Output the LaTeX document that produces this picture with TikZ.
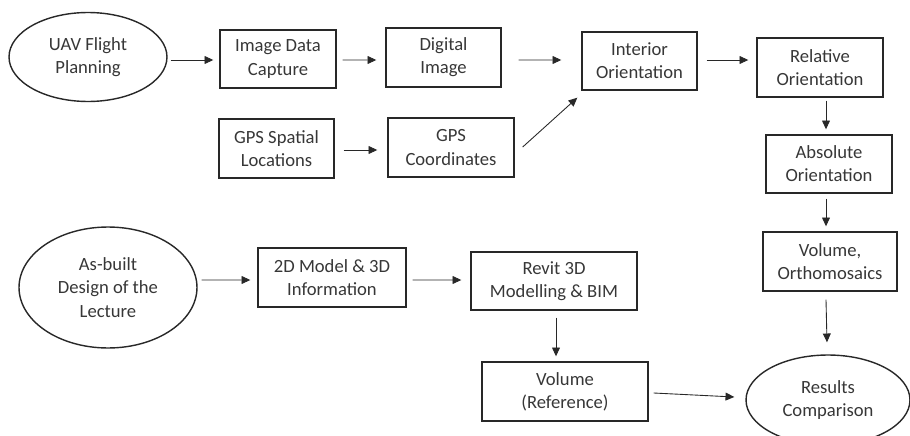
\documentclass[tikz,border=0pt]{standalone}
\usepackage{fontspec}
\setmainfont{Carlito}
\usetikzlibrary{positioning, calc, arrows.meta, shapes.geometric}
\definecolor{ink}{RGB}{55,55,55}
\definecolor{edge}{RGB}{40,40,40}

\begin{document}
\begin{tikzpicture}[x=0.02cm, y=-0.02cm,
		every node/.style={font=\fontsize{10.6}{13.2}\selectfont, text=ink, align=center, inner sep=1pt},
		box/.style={draw=edge, line width=0.8pt, rectangle},
		oval/.style={draw=edge, line width=0.8pt, ellipse},
		flow/.style={draw=edge, line width=0.5pt, -{Triangle[length=5pt, width=4.5pt]}}]
		\useasboundingbox (0, 0) rectangle (910, 436);
		\node[oval, minimum width=3.16cm, minimum height=1.78cm] (uav) at (88, 57) {UAV Flight\\Planning};
		\node[box, minimum width=2.32cm, minimum height=1.16cm] (capture) at (278, 59) {Image Data\\Capture};
		\node[box, minimum width=2.30cm, minimum height=1.18cm] (digital) at (443.5, 57.5) {Digital\\Image};
		\node[box, minimum width=2.30cm, minimum height=1.18cm] (gpsloc) at (276.5, 148.5) {GPS Spatial\\Locations};
		\node[box, minimum width=2.52cm, minimum height=1.18cm] (gpscoord) at (451, 147.5) {GPS\\Coordinates};
		\node[box, minimum width=2.30cm, minimum height=1.16cm] (interior) at (639.5, 61) {Interior\\Orientation};
		\node[box, minimum width=2.52cm, minimum height=1.18cm] (relative) at (820, 67.5) {Relative\\Orientation};
		\node[box, minimum width=2.52cm, minimum height=1.16cm] (absolute) at (829, 164) {Absolute\\Orientation};
		\node[box, minimum width=2.68cm, minimum height=1.18cm] (ortho) at (830, 261.5) {Volume,\\Orthomosaics};
		\node[oval, minimum width=3.28cm, minimum height=1.80cm] (results) at (828, 400) {Results\\Comparison};
		\node[oval, minimum width=3.56cm, minimum height=2.42cm] (asbuilt) at (108, 287.5) {As-built\\Design of the\\Lecture};
		\node[box, minimum width=2.96cm, minimum height=1.18cm] (model2d) at (332, 277.5) {2D Model \& 3D\\Information};
		\node[box, minimum width=3.32cm, minimum height=1.16cm] (revit) at (554, 281) {Revit 3D\\Modelling \& BIM};
		\node[box, minimum width=3.32cm, minimum height=1.18cm] (volref) at (565, 391.5) {Volume\\(Reference)};
		% upper chain
		\draw[flow] ($(uav.east) + (3, 3)$) -- ($(capture.west) + (-6, 1)$);
		\draw[flow] ($(capture.east) + (6, 1)$) -- ($(digital.west) + (-9, 2.5)$);
		\draw[flow] ($(digital.east) + (17, 2.5)$) -- ($(interior.west) + (-20, -1)$);
		\draw[flow] ($(gpsloc.east) + (9, 1.5)$) -- ($(gpscoord.west) + (-10, 2.5)$);
		\draw[flow] ($(gpscoord.east) + (8, -0.5)$) -- ($(interior.south west) + (-4, 7)$);
		\draw[flow] ($(interior.east) + (9, -1)$) -- ($(relative.west) + (-8, -7.5)$);
		\draw[flow] ($(relative.south) + (6, 3)$) -- ($(absolute.north) + (-3, -5)$);
		\draw[flow] ($(absolute.south) + (-3, 5)$) -- ($(ortho.north) + (-4, -5)$);
		\draw[flow] ($(ortho.south) + (-4, 8)$) -- ($(results.north) + (-1, -12)$);
		% lower chain
		\draw[flow] ($(asbuilt.east) + (4, -7.5)$) -- ($(model2d.west) + (-7, 2.5)$);
		\draw[flow] ($(model2d.east) + (6, 2.5)$) -- ($(revit.west) + (-9, -1)$);
		\draw[flow] ($(revit.south) + (2, 7)$) -- ($(volref.north) + (-9, -5)$);
		\draw[flow] ($(volref.east) + (5, 1.5)$) -- ($(results.west) + (-11, -3)$);
	\end{tikzpicture}
\end{document}
